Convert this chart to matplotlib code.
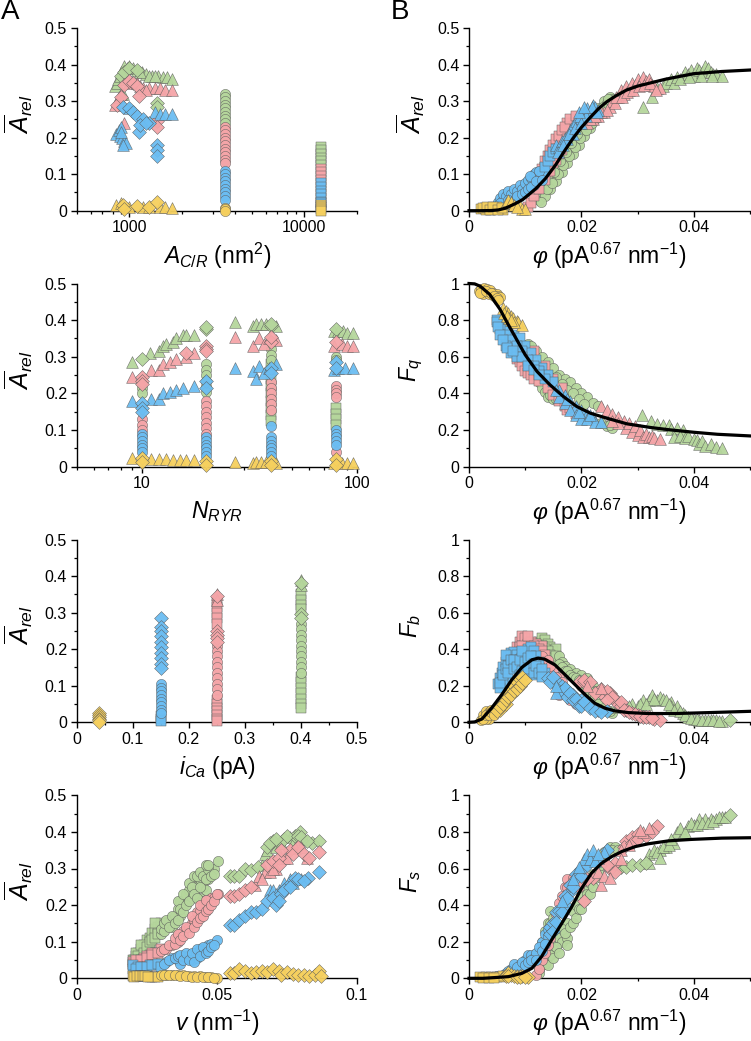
import matplotlib
matplotlib.use("Agg")
import matplotlib.pyplot as plt

plt.rcParams['font.family'] = ['Liberation Sans', 'DejaVu Sans']
plt.rcParams['mathtext.fontset'] = 'custom'
plt.rcParams['mathtext.rm'] = 'Liberation Sans'
plt.rcParams['mathtext.it'] = 'Liberation Sans:italic'
plt.rcParams['mathtext.bf'] = 'Liberation Sans:bold'

GREEN = '#B5D69C'
RED = '#F5A5A8'
BLUE = '#6BBDF2'
YELLOW = '#F6D05E'

# panel A, first row: A_C/R
a1_green_tri = [(830,.34),(850,.35),(860,.36),(880,.37),(900,.38),(930,.395),(1000,.395),(1050,.39),(1100,.385),(1180,.38),(1250,.375),(1350,.37),(1450,.37),(1550,.365),(1650,.365),(1750,.36),(920,.32),(970,.39),(1150,.38),(1300,.37),(1400,.37)]
a1_green_dia = [(900,.37),(930,.38),(1000,.39),(1100,.385),(1430,.295),(1430,.285)]
a1_red_tri = [(830,.29),(870,.31),(900,.32),(1000,.35),(1100,.35),(1200,.335),(1300,.335),(1400,.335),(1500,.335),(1600,.33),(1750,.33),(930,.24),(1150,.34),(1250,.33)]
a1_red_dia = [(850,.29),(900,.31),(930,.345),(1000,.355),(1050,.35),(1100,.34),(1130,.315),(1430,.245),(1430,.23)]
a1_blue_tri = [(840,.21),(870,.22),(890,.23),(880,.205),(910,.2),(930,.19),(950,.185),(1000,.28),(1400,.27),(1500,.265),(1600,.265),(1750,.265),(900,.215),(920,.18)]
a1_blue_dia = [(920,.285),(1000,.28),(1050,.27),(1100,.26),(1130,.215),(1200,.25),(1300,.24),(1430,.18),(1430,.165),(1430,.15),(1150,.235),(1250,.24)]
a1_yellow_tri = [(840,.015),(900,.02),(1000,.01),(1200,.01),(1300,.01),(1500,.01),(1600,.01),(1750,.008)]
a1_yellow_dia = [(920,.015),(930,.005),(1100,.012),(1300,.01),(1440,.025)]
a1_circle_x = 3500
a1_green_circle = [.32,.31,.30,.29,.28,.27,.26,.25,.24]
a1_red_circle = [.23,.22,.21,.20,.19,.18,.17,.16,.15,.14,.13]
a1_blue_circle = [.11,.10,.09,.08,.07,.06,.05,.04,.03]
a1_yellow_circle = [.008,.004,.0]
a1_square_x = 12500
a1_green_square = [.175,.165,.155,.145,.135,.125]
a1_red_square = [.115,.105,.095,.085]
a1_blue_square = [.075,.065,.055,.045,.035,.025,.02]
a1_yellow_square = [.015,.01,.005,.0]

# panel A, second row: N_RYR
a2_green_tri = [(9,.285),(10.9,.31),(12,.315),(12.5,.33),(13,.335),(14,.34),(14.5,.35),(15.5,.36),(16,.36),(17.5,.36),(27,.395),(33,.385),(34,.39),(36,.39),(38,.39),(42,.385),(78,.37),(82,.37),(86,.37),(90,.365),(96,.365)]
a2_green_dia = [(10,.295),(20,.375),(20,.38),(40,.385),(40,.39),(80,.375)]
a2_green_circle = [(10,.23),(10,.215),(10,.2),(20,.28),(20,.265),(20,.25),(20,.235),(20,.22),(20,.205),(40,.32),(40,.305),(40,.29),(80,.3),(80,.29)]
a2_green_square = [(40,.28),(40,.26),(40,.24),(40,.22),(40,.2),(40,.18),(40,.16),(40,.14),(40,.125),(80,.16),(80,.145),(80,.13),(80,.115)]
a2_red_tri = [(9,.245),(11,.265),(12,.265),(12.5,.28),(13.5,.285),(14.5,.295),(16,.3),(17.5,.31),(27,.355),(33,.33),(35,.35),(37,.335),(39,.35),(42,.345),(78,.33),(85,.335),(90,.33),(96,.33)]
a2_red_dia = [(10,.245),(10,.235),(10,.225),(16,.31),(20,.33),(20,.32),(20,.315),(40,.34),(40,.355),(80,.34)]
a2_red_circle = [(10,.13),(10,.115),(10,.1),(20,.18),(20,.165),(20,.15),(20,.135),(20,.12),(20,.105),(20,.09),(40,.23),(40,.215),(40,.2),(40,.185),(40,.17),(40,.155),(80,.22),(80,.21),(80,.2),(80,.19),(80,.04)]
a2_blue_tri = [(9,.18),(11,.185),(12,.185),(12.5,.2),(13.5,.205),(14.5,.21),(15.5,.215),(17.5,.22),(27,.27),(33,.26),(34,.24),(35,.275),(37,.255),(39,.27),(42,.28),(78,.265),(82,.27),(88,.27),(96,.27)]
a2_blue_dia = [(10,.175),(10,.16),(10,.15),(20,.235),(20,.215),(40,.27),(40,.255),(80,.285),(80,.27)]
a2_blue_circle = [(10,.09),(10,.08),(10,.07),(10,.06),(10,.05),(10,.04),(20,.08),(20,.07),(20,.06),(20,.05),(20,.04),(20,.03),(40,.11),(40,.08),(40,.07),(40,.06),(40,.05),(40,.04),(40,.03),(80,.1),(80,.09),(80,.08),(80,.07),(80,.06)]
a2_yellow_tri = [(9,.025),(11,.02),(12,.02),(13,.02),(14,.018),(15,.018),(16,.018),(17.5,.018),(27,.014),(33,.01),(34,.012),(36,.012),(38,.012),(42,.01),(78,.01),(85,.01),(90,.01),(96,.01)]
a2_yellow_dia = [(10,.025),(10,.012),(20,.015),(20,.005),(40,.015),(40,.005),(80,.02),(80,.005)]

# panel A, third row: i_Ca
a3_yellow_dia = [(.04,.025),(.04,.02),(.04,.015),(.04,.01),(.04,.005),(.04,.002)]
a3_blue_dia = [(.15,.285),(.15,.26),(.15,.25),(.15,.235),(.15,.22),(.15,.205),(.15,.19),(.15,.175),(.15,.16),(.15,.148)]
a3_blue_circle = [(.15,.105),(.15,.095),(.15,.085),(.15,.075),(.15,.065),(.15,.055),(.15,.045),(.15,.035),(.15,.025)]
a3_blue_square = [(.15,.018),(.15,.01),(.15,.004)]
a3_red_tri = [(.25,.35),(.25,.335)]
a3_red_square = [(.25,.33),(.25,.315),(.25,.3),(.25,.285),(.25,.27),(.25,.06),(.25,.05),(.25,.04),(.25,.03),(.25,.02),(.25,.01),(.25,.003)]
a3_red_dia = [(.25,.345),(.25,.25),(.25,.24),(.25,.23),(.25,.22)]
a3_red_circle = [(.25,.21),(.25,.195),(.25,.18),(.25,.165),(.25,.15),(.25,.135),(.25,.12),(.25,.105),(.25,.09),(.25,.075)]
a3_green_tri = [(.4,.39),(.4,.375)]
a3_green_dia = [(.4,.38),(.4,.295),(.4,.285)]
a3_green_square = [(.4,.35),(.4,.335),(.4,.32),(.4,.31),(.4,.125),(.4,.11),(.4,.095),(.4,.08),(.4,.065),(.4,.05),(.4,.04)]
a3_green_circle = [(.4,.27),(.4,.255),(.4,.24),(.4,.225),(.4,.21),(.4,.195),(.4,.18),(.4,.165),(.4,.15),(.4,.135)]

# panel A, fourth row: v
a4_green_square = [(.02,.05),(.021,.06),(.022,.07),(.023,.08),(.024,.09),(.025,.105),(.026,.11),(.027,.125),(.028,.135),(.029,.14),(.03,.15),(.028,.15),(.026,.09),(.0205,.05),(.021,.07),(.022,.06),(.023,.09),(.024,.07),(.025,.085),(.026,.1),(.027,.105),(.028,.11),(.029,.12)]
a4_green_circle = [(.03,.12),(.032,.14),(.033,.16),(.034,.14),(.035,.17),(.036,.19),(.037,.21),(.037,.17),(.038,.2),(.039,.23),(.04,.24),(.041,.22),(.042,.26),(.043,.25),(.044,.27),(.044,.22),(.045,.25),(.045,.21),(.046,.29),(.046,.24),(.047,.27),(.048,.3),(.049,.3),(.0505,.32),(.03,.135),(.031,.13),(.031,.15),(.032,.16),(.033,.14),(.034,.17),(.035,.15),(.036,.16),(.036,.21),(.037,.19),(.038,.18),(.038,.23),(.039,.2),(.04,.21),(.04,.26),(.041,.25),(.042,.23),(.042,.28),(.043,.22),(.043,.28),(.044,.25),(.044,.29),(.045,.28),(.046,.27),(.047,.3),(.048,.28),(.046,.31),(.047,.31),(.049,.285)]
a4_green_tri = [(.066,.31),(.067,.34),(.068,.35),(.072,.37),(.076,.385),(.081,.38),(.071,.36),(.073,.37),(.077,.37)]
a4_green_dia = [(.0545,.28),(.056,.28),(.058,.28),(.06,.3),(.062,.295),(.0645,.305),(.07,.375),(.074,.38),(.078,.39),(.0795,.4),(.084,.37),(.0865,.375),(.068,.36),(.069,.37),(.071,.38),(.075,.39),(.079,.39),(.08,.385),(.082,.375)]
a4_red_square = [(.02,.045),(.022,.05),(.024,.055),(.026,.065),(.028,.07),(.03,.08),(.025,.06),(.027,.07),(.02,.04),(.021,.05),(.023,.05),(.025,.055),(.027,.065),(.029,.07)]
a4_red_circle = [(.03,.075),(.032,.08),(.034,.09),(.036,.1),(.037,.12),(.038,.13),(.04,.14),(.041,.15),(.042,.16),(.043,.18),(.044,.185),(.045,.2),(.046,.2),(.047,.21),(.048,.22),(.049,.22),(.0505,.23),(.031,.08),(.033,.09),(.035,.095),(.035,.11),(.036,.12),(.037,.105),(.038,.115),(.039,.14),(.04,.125),(.041,.17),(.042,.14),(.043,.155),(.044,.165),(.044,.2),(.045,.17),(.046,.185),(.046,.215),(.047,.19),(.048,.2),(.049,.21),(.05,.23)]
a4_red_tri = [(.0635,.255),(.065,.28),(.067,.29),(.071,.3),(.074,.33),(.078,.355),(.08,.36),(.082,.33),(.066,.27),(.069,.29),(.07,.3),(.075,.33)]
a4_red_dia = [(.0545,.225),(.056,.225),(.058,.23),(.06,.24),(.062,.25),(.068,.31),(.07,.32),(.072,.33),(.076,.35),(.0865,.345),(.072,.31),(.073,.35),(.077,.34),(.079,.36),(.081,.34),(.083,.33)]
a4_blue_square = [(.02,.025),(.02,.035),(.022,.03),(.024,.032),(.026,.035),(.028,.035),(.03,.04),(.021,.025),(.023,.03),(.025,.032),(.027,.035),(.029,.04),(.03,.03)]
a4_blue_circle = [(.032,.045),(.034,.055),(.036,.05),(.037,.04),(.038,.06),(.04,.065),(.041,.05),(.042,.07),(.043,.055),(.044,.08),(.045,.07),(.046,.085),(.047,.09),(.048,.095),(.05,.105),(.031,.04),(.033,.05),(.035,.055),(.036,.06),(.037,.065),(.038,.05),(.039,.07),(.04,.05),(.041,.07),(.042,.045),(.043,.08),(.044,.06),(.045,.085),(.046,.07),(.047,.075),(.048,.085),(.049,.09)]
a4_blue_tri = [(.069,.24),(.072,.24),(.074,.26),(.076,.27),(.08,.27),(.07,.24),(.071,.23),(.077,.26)]
a4_blue_dia = [(.0545,.145),(.056,.145),(.058,.16),(.06,.17),(.062,.18),(.064,.18),(.066,.19),(.068,.21),(.07,.22),(.071,.2),(.073,.23),(.075,.25),(.078,.275),(.0825,.275),(.0865,.29),(.072,.21),(.074,.24),(.076,.25),(.079,.27),(.081,.265)]
a4_yellow_square = [(.02,.006),(.021,.006),(.022,.005),(.023,.005),(.024,.005),(.025,.005),(.026,.004),(.027,.004),(.028,.004),(.029,.004),(.0205,.004),(.0215,.006),(.0225,.006),(.0235,.005),(.0245,.005),(.0255,.004)]
a4_yellow_circle = [(.03,.01),(.032,.01),(.034,.009),(.036,.008),(.038,.008),(.04,.007),(.042,.006),(.044,.005),(.046,.004),(.048,.003),(.05,.002),(.031,.008),(.033,.01),(.035,.008),(.037,.006),(.039,.005),(.041,.004),(.043,.004),(.045,.003),(.047,.003),(.049,.002)]
a4_yellow_dia = [(.0545,.015),(.056,.015),(.058,.025),(.06,.02),(.062,.015),(.064,.018),(.066,.02),(.068,.018),(.07,.025),(.072,.02),(.073,.01),(.075,.018),(.077,.012),(.079,.01),(.081,.01),(.083,.005),(.085,.008),(.0865,.02),(.087,.007)]

# panel B, first row: A_rel against phi
b1_green_circle = [(.0125,.03),(.013,.05),(.0135,.04),(.014,.07),(.0145,.06),(.015,.09),(.0155,.08),(.016,.12),(.0165,.105),(.017,.145),(.0175,.13),(.018,.17),(.0185,.155),(.019,.195),(.0195,.18),(.02,.21),(.0205,.205),(.021,.235),(.0215,.225),(.022,.26),(.0225,.25),(.023,.28),(.0235,.27),(.024,.3),(.0245,.295),(.025,.31),(.0255,.305),(.0128,.025),(.0138,.06),(.0148,.075),(.0158,.1),(.0168,.125),(.0178,.15),(.0188,.175),(.0198,.2),(.0208,.22),(.0218,.24),(.0228,.265),(.0238,.285),(.0248,.305),(.0152,.105),(.0162,.135),(.0172,.16),(.0182,.185),(.0192,.21)]
b1_green_tri = [(.031,.285),(.0325,.31),(.0335,.335),(.0345,.34),(.035,.35),(.036,.36),(.0365,.35),(.037,.365),(.038,.37),(.0385,.38),(.039,.375),(.0395,.385),(.04,.37),(.0405,.39),(.041,.385),(.0415,.38),(.042,.395),(.0425,.39),(.043,.38),(.0435,.375),(.044,.375),(.045,.37),(.0375,.36),(.0392,.365),(.0412,.37),(.0432,.37)]
b1_red_square = [(.0105,.01),(.011,.02),(.0115,.04),(.012,.06),(.0125,.08),(.013,.1),(.0135,.12),(.014,.135),(.0145,.15),(.015,.165),(.0155,.18),(.016,.195),(.0165,.205),(.017,.22),(.0175,.24),(.018,.23),(.014,.105),(.015,.13),(.016,.155),(.0125,.1),(.013,.115),(.0135,.135),(.014,.15),(.0145,.165),(.015,.18),(.0155,.195),(.016,.205),(.0165,.22),(.017,.23),(.018,.25),(.019,.26),(.0125,.06),(.0135,.085),(.0145,.11),(.0155,.14),(.0165,.165),(.0175,.195)]
b1_red_tri = [(.021,.24),(.022,.25),(.023,.26),(.024,.27),(.025,.285),(.0255,.3),(.026,.295),(.0265,.31),(.027,.33),(.0275,.32),(.028,.34),(.0285,.33),(.029,.35),(.0295,.345),(.03,.36),(.0305,.35),(.031,.365),(.0315,.355),(.032,.36),(.0325,.345),(.033,.34),(.034,.335),(.0215,.25),(.0225,.26),(.0235,.27),(.0245,.275),(.0262,.31),(.0272,.31),(.0282,.325),(.0292,.33),(.0302,.34),(.0312,.345),(.0322,.35),(.0332,.33)]
b1_blue_circle = [(.005,.01),(.0052,.025),(.0055,.035),(.006,.03),(.006,.045),(.0065,.04),(.0065,.015),(.007,.055),(.0075,.045),(.008,.06),(.008,.03),(.0085,.055),(.009,.07),(.009,.04),(.0095,.06),(.01,.075),(.0105,.085),(.011,.09),(.0115,.1),(.0115,.07),(.012,.105),(.0125,.09),(.013,.105),(.0135,.11),(.0055,.02),(.007,.03),(.0075,.02),(.0085,.04),(.0095,.045),(.01,.05),(.0105,.06),(.011,.065),(.0108,.095),(.012,.08),(.0125,.11),(.013,.085)]
b1_blue_square = [(.0135,.12),(.014,.135),(.0145,.15),(.015,.16),(.0155,.17)]
b1_blue_tri = [(.0155,.18),(.016,.175),(.0165,.19),(.017,.2),(.0175,.195),(.018,.22),(.0185,.235),(.0185,.21),(.019,.245),(.0195,.24),(.02,.255),(.0205,.27),(.021,.28),(.0215,.27),(.022,.29),(.0225,.285),(.023,.275),(.0158,.16),(.0168,.18),(.0178,.21),(.0188,.225),(.0198,.26),(.0208,.26),(.0218,.285),(.0228,.27),(.02,.24),(.0195,.27),(.0205,.285)]
b1_yellow_square = [(.0022,.005),(.0028,.008),(.0034,.005),(.004,.008),(.0046,.006),(.005,.01),(.0055,.004),(.006,.002),(.003,.002),(.004,.001),(.0025,.008),(.0032,.01),(.0038,.003),(.0043,.01),(.0052,.002),(.0058,.008)]
b1_yellow_tri = [(.0065,.02),(.007,.03),(.0075,.025),(.008,.015),(.009,.012),(.0095,.006),(.01,.004),(.0085,.01)]

# panel B, second row: F_q against phi
b2_green_circle = [(.0105,.67),(.011,.66),(.012,.63),(.013,.6),(.014,.57),(.015,.54),(.016,.5),(.017,.48),(.018,.46),(.019,.43),(.02,.4),(.021,.38),(.022,.35),(.023,.33),(.0155,.49),(.0165,.45),(.0175,.42),(.0185,.4),(.0195,.37),(.0205,.34),(.0125,.46),(.013,.43),(.0135,.41),(.014,.38),(.0145,.39),(.015,.37),(.0155,.37),(.0235,.24),(.0245,.22),(.0255,.21),(.025,.23)]
b2_green_tri = [(.0308,.283),(.0323,.252),(.0335,.235),(.0345,.23),(.0355,.225),(.036,.205),(.037,.21),(.038,.2),(.0365,.16),(.0375,.17),(.0385,.155),(.039,.165),(.04,.15),(.0405,.145),(.041,.125),(.0415,.14),(.042,.115),(.043,.125),(.044,.105),(.045,.1)]
b2_red_square = [(.0085,.59),(.009,.57),(.0095,.55),(.01,.52),(.0105,.51),(.011,.5),(.0115,.48),(.0125,.47),(.014,.43),(.015,.39),(.016,.36),(.017,.33),(.0175,.31),(.018,.32),(.019,.29),(.0115,.63),(.0135,.55),(.015,.48),(.0165,.43)]
b2_red_tri = [(.0235,.33),(.0245,.31),(.0255,.29),(.0265,.27),(.0275,.25),(.028,.21),(.0285,.24),(.029,.19),(.0295,.22),(.03,.175),(.0305,.2),(.031,.16),(.0315,.18),(.032,.16),(.0325,.17),(.033,.155),(.034,.15),(.0265,.24),(.0255,.25)]
b2_blue_square = [(.005,.8),(.006,.77),(.007,.75),(.008,.72),(.009,.7),(.01,.66),(.011,.62),(.012,.58),(.013,.54),(.014,.5),(.015,.46),(.0055,.75),(.0065,.72),(.0075,.69),(.0085,.66),(.0095,.63),(.0105,.58),(.0115,.55),(.0125,.52),(.0135,.48),(.0065,.66),(.0075,.62),(.0085,.6),(.0095,.6),(.0105,.55),(.0115,.53),(.0125,.5),(.0049,.79),(.0052,.76),(.0055,.72),(.006,.69),(.0068,.65),(.0078,.63)]
b2_blue_tri = [(.016,.42),(.017,.39),(.018,.36),(.019,.33),(.02,.31),(.021,.29),(.022,.27),(.016,.38),(.017,.35),(.018,.31),(.019,.28),(.02,.26),(.021,.26),(.0225,.245),(.0235,.245),(.0155,.42),(.0175,.37),(.0195,.3),(.0215,.28)]
b2_yellow_circle = [(.0017,.96),(.0022,.97),(.0026,.976),(.0032,.97),(.0037,.967),(.0043,.95),(.0049,.94),(.0052,.93),(.0055,.925),(.0025,.94),(.0035,.945),(.002,.95),(.003,.96),(.004,.95),(.0045,.93),(.005,.92),(.0052,.91)]
b2_yellow_tri = [(.0061,.867),(.0065,.85),(.007,.84),(.0075,.825),(.0079,.81),(.0085,.795),(.0088,.79),(.0094,.775),(.0072,.81),(.008,.79),(.0063,.84),(.0068,.82),(.0075,.8)]

# panel B, third row: F_b against phi
b3_green_square = [(.0125,.44),(.013,.46),(.0135,.45),(.014,.43),(.0145,.41),(.015,.39),(.0155,.4),(.012,.43),(.0125,.41),(.013,.42),(.0135,.4),(.014,.39),(.0145,.37),(.015,.35),(.0155,.36)]
b3_green_circle = [(.016,.36),(.0165,.33),(.017,.31),(.018,.29),(.019,.27),(.02,.26),(.021,.24),(.022,.2),(.0225,.17),(.0215,.14),(.0225,.08),(.0255,.05),(.025,.06),(.016,.32),(.0165,.3),(.017,.28),(.0175,.28),(.018,.26),(.0185,.25),(.019,.24),(.0195,.23),(.02,.2),(.0205,.19),(.021,.2),(.0215,.17),(.022,.15),(.0225,.14),(.023,.1),(.024,.08),(.0245,.07)]
b3_green_tri = [(.0265,.085),(.029,.1),(.03,.09),(.031,.12),(.032,.12),(.0325,.15),(.0335,.12),(.034,.14),(.0345,.13),(.035,.12),(.036,.11),(.037,.09),(.038,.05),(.039,.03),(.04,.02),(.041,.015),(.042,.01),(.043,.015),(.044,.01),(.045,.008),(.0275,.09),(.0285,.09),(.0305,.1),(.0315,.1),(.033,.13),(.036,.09),(.0355,.1),(.0365,.07),(.0375,.06),(.0385,.04),(.0395,.025),(.0405,.018),(.0415,.012),(.0425,.012),(.0435,.012),(.0445,.009)]
b3_green_dia = [(.0465,.01)]
b3_red_square = [(.0085,.41),(.009,.44),(.0095,.47),(.01,.46),(.0105,.43),(.011,.44),(.012,.43),(.013,.42),(.009,.41),(.0095,.42),(.0105,.47),(.0115,.42),(.0125,.4),(.013,.39),(.0135,.37)]
b3_red_circle = [(.012,.3),(.013,.36),(.014,.34),(.015,.28),(.016,.25),(.017,.18),(.018,.14),(.0185,.12),(.0145,.31),(.0155,.25),(.0165,.22),(.0175,.17),(.016,.15),(.018,.12),(.019,.1)]
b3_red_dia = [(.0195,.22),(.0205,.22),(.0235,.18),(.0235,.16),(.025,.16),(.026,.13),(.0265,.1),(.027,.09),(.028,.065),(.029,.05),(.03,.04),(.031,.03),(.032,.03),(.033,.02),(.034,.015),(.0205,.23),(.0215,.22),(.0225,.16),(.0245,.17),(.0255,.14),(.0245,.12),(.027,.11),(.0275,.07),(.0285,.055),(.0295,.045),(.0305,.035),(.0315,.03),(.0325,.025)]
b3_red_tri = [(.021,.2),(.0235,.19)]
b3_blue_square = [(.0052,.21),(.0055,.24),(.0058,.27),(.006,.3),(.0065,.33),(.007,.36),(.0075,.38),(.008,.385),(.0085,.37),(.0085,.33),(.0075,.3),(.0065,.25),(.006,.22),(.0055,.19),(.009,.3),(.0095,.35),(.01,.38),(.0105,.4),(.011,.41),(.0115,.39),(.012,.36),(.0125,.33),(.011,.27),(.012,.26),(.0135,.27),(.0055,.215),(.006,.26),(.0065,.29),(.0065,.37),(.007,.31),(.007,.27),(.0075,.34),(.008,.34),(.008,.29),(.0085,.3),(.009,.34),(.009,.26),(.0095,.28),(.0095,.39),(.01,.33),(.01,.27),(.0105,.35),(.0105,.29),(.011,.36),(.0115,.32),(.0115,.27),(.012,.31),(.0125,.27),(.013,.29),(.013,.25)]
b3_blue_dia = [(.014,.24),(.015,.22),(.016,.21),(.0165,.2),(.0175,.175),(.0185,.15),(.02,.12),(.021,.1),(.022,.085),(.023,.07),(.0245,.06),(.0145,.22),(.015,.25),(.016,.17),(.0165,.17),(.017,.19),(.0175,.14),(.018,.16),(.0185,.12),(.019,.13),(.0195,.09),(.02,.09),(.0205,.11),(.0215,.08),(.0225,.06),(.0235,.055)]
b3_blue_tri = [(.0155,.16),(.0155,.2)]
b3_yellow_circle = [(.0022,.01),(.0025,.04),(.003,.06),(.0035,.055),(.004,.04),(.0035,.02),(.003,.02),(.004,.07),(.0045,.06),(.0025,.02),(.003,.04),(.0035,.04),(.004,.055),(.0045,.04)]
b3_yellow_dia = [(.005,.08),(.0055,.1),(.0055,.07),(.006,.13),(.0065,.15),(.0065,.1),(.007,.16),(.0075,.19),(.008,.2),(.0085,.22),(.009,.235),(.0095,.25),(.005,.06),(.0055,.085),(.006,.1),(.0065,.12),(.007,.14),(.0075,.15),(.008,.17),(.0085,.18),(.009,.2),(.0095,.215),(.01,.23)]

# panel B, fourth row: F_s against phi
b4_green_circle = [(.0125,.05),(.013,.1),(.014,.12),(.0145,.2),(.0144,.37),(.015,.16),(.0155,.25),(.016,.22),(.0165,.2),(.0175,.22),(.0175,.3),(.0185,.37),(.019,.4),(.02,.45),(.0205,.5),(.0215,.52),(.022,.57),(.023,.65),(.024,.69),(.025,.72),(.026,.72),(.0125,.03),(.0135,.08),(.014,.07),(.0145,.13),(.015,.11),(.0155,.17),(.016,.14),(.0165,.27),(.017,.25),(.0175,.18),(.018,.28),(.0185,.3),(.019,.33),(.0195,.38),(.02,.38),(.0205,.42),(.021,.46),(.0215,.46),(.022,.5),(.0225,.55),(.023,.58),(.0235,.62),(.024,.65),(.0245,.68),(.0255,.7),(.0265,.7),(.014,.3),(.0145,.3),(.015,.33),(.0135,.26),(.013,.2)]
b4_green_tri = [(.032,.68),(.033,.7),(.034,.7),(.035,.72),(.0365,.74),(.037,.8),(.038,.79),(.039,.83),(.04,.84),(.041,.87),(.042,.87),(.043,.87),(.044,.87),(.045,.88),(.0335,.69),(.0345,.72),(.0355,.73),(.036,.76),(.0375,.82),(.0385,.8),(.0395,.85),(.0405,.84),(.0415,.85),(.0425,.85),(.0435,.86),(.0445,.88),(.0455,.88),(.032,.63),(.034,.66)]
b4_green_dia = [(.026,.6),(.027,.61),(.028,.61),(.029,.62),(.0305,.62),(.0315,.63),(.0465,.89)]
b4_red_circle = [(.012,.02),(.013,.1),(.0145,.22),(.015,.3),(.016,.41),(.017,.5),(.0175,.54),(.018,.51),(.019,.53),(.0125,.05),(.0135,.14),(.014,.18),(.0155,.35),(.0165,.45),(.0175,.5),(.0185,.55),(.0195,.5)]
b4_red_dia = [(.0205,.42),(.02,.52),(.022,.55),(.025,.6),(.026,.63),(.028,.75),(.029,.77),(.03,.79),(.0335,.83),(.021,.54),(.0245,.62),(.026,.58),(.0275,.72),(.029,.74),(.03,.76),(.0315,.78),(.0325,.8)]
b4_red_tri = [(.0235,.51),(.027,.7),(.0285,.73),(.031,.8),(.032,.82),(.023,.58),(.024,.56),(.025,.55),(.027,.65),(.0305,.81)]
b4_blue_circle = [(.005,.01),(.006,.02),(.0075,.05),(.008,.08),(.009,.07),(.01,.1),(.0105,.13),(.011,.13),(.0115,.11),(.012,.14),(.013,.2),(.0135,.24),(.014,.23),(.0055,.015),(.0065,.03),(.007,.04),(.0085,.06),(.0095,.09),(.01,.07),(.0105,.09),(.011,.1),(.012,.1),(.0125,.17),(.013,.15),(.0135,.19),(.014,.27)]
b4_blue_dia = [(.0145,.28),(.015,.3),(.0155,.36),(.017,.4),(.018,.47),(.019,.57),(.02,.6),(.022,.66),(.0245,.7),(.0145,.24),(.015,.26),(.0155,.31),(.016,.37),(.0165,.36),(.017,.45),(.0175,.44),(.018,.51),(.0185,.5),(.019,.55),(.02,.56),(.0205,.61),(.021,.62)]
b4_blue_tri = [(.0165,.42),(.0185,.54),(.0205,.65),(.021,.68),(.023,.66),(.024,.69),(.0195,.61),(.0215,.65),(.022,.7),(.0225,.64),(.023,.68)]
b4_yellow_square = [(.002,.005),(.003,.008),(.004,.006),(.005,.008),(.0055,.005),(.006,.01),(.0025,.003),(.0035,.004),(.0045,.003)]
b4_yellow_dia = [(.0065,.02),(.007,.03),(.0075,.02),(.008,.01),(.0085,.012),(.009,.012),(.0095,.01),(.0105,.006),(.0065,.01),(.007,.015),(.0085,.005),(.009,.006),(.01,.007)]

# fitted curves
curve1_x = [0,.002,.004,.0052,.0065,.0082,.0095,.0107,.012,.0136,.0154,.0171,.0185,.02,.0215,.0231,.0245,.0261,.028,.03,.035,.04,.045,.05]
curve1_y = [0,0,.0005,.002,.007,.019,.03,.045,.062,.088,.125,.166,.198,.228,.254,.28,.298,.314,.33,.341,.36,.375,.381,.385]
curve2_x = [0,.001,.002,.0037,.0055,.007,.0085,.01,.0121,.0144,.0168,.0192,.0216,.0245,.0281,.0323,.0358,.04,.0442,.05]
curve2_y = [1,.998,.985,.94,.86,.775,.693,.611,.52,.447,.383,.328,.292,.265,.234,.214,.201,.188,.177,.168]
curve3_x = [0,.001,.0023,.004,.0058,.0076,.0094,.0112,.0123,.0135,.0153,.0171,.0189,.0207,.0224,.0242,.026,.0284,.0319,.0367,.0426,.05]
curve3_y = [0,.002,.018,.077,.15,.232,.3,.342,.351,.345,.314,.26,.205,.15,.104,.077,.062,.053,.048,.048,.053,.06]
curve4_x = [0,.0025,.0046,.007,.0094,.0112,.0129,.0147,.0165,.0183,.02,.0218,.0236,.0254,.0272,.0296,.0319,.0355,.0396,.045,.05]
curve4_y = [0,0,.004,.009,.027,.055,.118,.21,.3,.392,.49,.575,.629,.665,.693,.72,.735,.751,.759,.766,.768]

xlabels_left = [r'$A_{C/R}$ (nm$^{2}$)', r'$N_{RYR}$', r'$i_{Ca}$ (pA)', r'$v$ (nm$^{-1}$)']
xlabel_right = r'$\varphi$ (pA$^{0.67}$ nm$^{-1}$)'
ylabel_arel = r'$\overline{A}_{rel}$'
ylabels_right = [ylabel_arel, r'$F_{q}$', r'$F_{b}$', r'$F_{s}$']
yticks_half = [0, .1, .2, .3, .4, .5]
ylabs_half = ['0', '0.1', '0.2', '0.3', '0.4', '0.5']
yticks_one = [0, .2, .4, .6, .8, 1]
ylabs_one = ['0', '0.2', '0.4', '0.6', '0.8', '1']

W, H = 751, 1041
TOPS = [28, 283.5, 539.5, 795.3]
BOTTOMS = [210.7, 466.7, 722.3, 978.3]
LEFTS = [76.8, 469]
RIGHTS = [357, 750]

fig = plt.figure(figsize=(W / 100, H / 100), dpi=100)


def make_axes(col, row):
    x0, x1 = LEFTS[col], RIGHTS[col]
    y0, y1 = TOPS[row], BOTTOMS[row]
    ax = fig.add_axes([x0 / W, 1 - y1 / H, (x1 - x0) / W, (y1 - y0) / H])
    ax.spines['top'].set_visible(False)
    ax.spines['right'].set_visible(False)
    ax.spines['left'].set_linewidth(1.0)
    ax.spines['bottom'].set_linewidth(1.0)
    ax.tick_params(which='major', length=4, width=1.0, labelsize=11.5, pad=3)
    ax.tick_params(which='minor', length=2.2, width=0.9)
    return ax


def scat(ax, pts, color, marker):
    sizes = {'^': 72, 'D': 50, 'o': 54, 's': 42}
    xs = [p[0] for p in pts]
    ys = [p[1] for p in pts]
    ax.scatter(xs, ys, s=sizes[marker], c=color, marker=marker, alpha=0.95,
               edgecolors=(0.35, 0.35, 0.35, 0.16), linewidths=0.35, clip_on=False, zorder=3)


def y_axis(ax, ticks, labels, minors, label):
    ax.set_ylim(ticks[0], ticks[-1])
    ax.set_yticks(ticks)
    ax.set_yticklabels(labels)
    ax.set_yticks(minors, minor=True)
    ax.set_ylabel(label, fontsize=18 if label == ylabel_arel else 16.5, va='center')
    ax.yaxis.set_label_coords(-0.207, 0.53)


def x_label(ax, label):
    ax.set_xlabel(label, fontsize=16.5, va='center')
    ax.xaxis.set_label_coords(0.5, -0.245)


half_minor = [.05, .15, .25, .35, .45]
one_minor = [.1, .3, .5, .7, .9]

# left column
ax = make_axes(0, 0)
for p, c, m in [(a1_green_tri, GREEN, '^'), (a1_green_dia, GREEN, 'D'), (a1_red_tri, RED, '^'), (a1_red_dia, RED, 'D'),
                (a1_blue_tri, BLUE, '^'), (a1_blue_dia, BLUE, 'D'), (a1_yellow_tri, YELLOW, '^'), (a1_yellow_dia, YELLOW, 'D')]:
    scat(ax, p, c, m)
for vals, c in [(a1_green_circle, GREEN), (a1_red_circle, RED), (a1_blue_circle, BLUE), (a1_yellow_circle, YELLOW)]:
    scat(ax, [(a1_circle_x, v) for v in vals], c, 'o')
for vals, c in [(a1_green_square, GREEN), (a1_red_square, RED), (a1_blue_square, BLUE), (a1_yellow_square, YELLOW)]:
    scat(ax, [(a1_square_x, v) for v in vals], c, 's')
ax.set_xscale('log')
ax.set_xlim(500, 20000)
ax.set_xticks([1000, 10000])
ax.set_xticklabels(['1000', '10000'])
ax.set_xticks([500, 600, 700, 800, 900, 2000, 3000, 4000, 5000, 6000, 7000, 8000, 9000, 20000], minor=True)
ax.set_xticklabels([], minor=True)
y_axis(ax, yticks_half, ylabs_half, half_minor, ylabel_arel)
x_label(ax, xlabels_left[0])

ax = make_axes(0, 1)
for p, c, m in [(a2_green_square, GREEN, 's'), (a2_green_circle, GREEN, 'o'), (a2_green_tri, GREEN, '^'), (a2_green_dia, GREEN, 'D'),
                (a2_red_circle, RED, 'o'), (a2_red_tri, RED, '^'), (a2_red_dia, RED, 'D'),
                (a2_blue_circle, BLUE, 'o'), (a2_blue_tri, BLUE, '^'), (a2_blue_dia, BLUE, 'D'),
                (a2_yellow_tri, YELLOW, '^'), (a2_yellow_dia, YELLOW, 'D')]:
    scat(ax, p, c, m)
ax.set_xscale('log')
ax.set_xlim(5, 100)
ax.set_xticks([10, 100])
ax.set_xticklabels(['10', '100'])
ax.set_xticks([5, 6, 7, 8, 9, 20, 30, 40, 50, 60, 70, 80, 90], minor=True)
ax.set_xticklabels([], minor=True)
y_axis(ax, yticks_half, ylabs_half, half_minor, ylabel_arel)
x_label(ax, xlabels_left[1])

ax = make_axes(0, 2)
for p, c, m in [(a3_yellow_dia, YELLOW, 'D'), (a3_blue_square, BLUE, 's'), (a3_blue_circle, BLUE, 'o'), (a3_blue_dia, BLUE, 'D'),
                (a3_red_square, RED, 's'), (a3_red_tri, RED, '^'), (a3_red_circle, RED, 'o'), (a3_red_dia, RED, 'D'),
                (a3_green_square, GREEN, 's'), (a3_green_tri, GREEN, '^'), (a3_green_circle, GREEN, 'o'), (a3_green_dia, GREEN, 'D')]:
    scat(ax, p, c, m)
ax.set_xlim(0, .5)
ax.set_xticks(yticks_half)
ax.set_xticklabels(ylabs_half)
ax.set_xticks(half_minor, minor=True)
y_axis(ax, yticks_half, ylabs_half, half_minor, ylabel_arel)
x_label(ax, xlabels_left[2])

ax = make_axes(0, 3)
for p, c, m in [(a4_green_square, GREEN, 's'), (a4_green_circle, GREEN, 'o'), (a4_green_tri, GREEN, '^'), (a4_green_dia, GREEN, 'D'),
                (a4_red_square, RED, 's'), (a4_red_circle, RED, 'o'), (a4_red_tri, RED, '^'), (a4_red_dia, RED, 'D'),
                (a4_blue_square, BLUE, 's'), (a4_blue_circle, BLUE, 'o'), (a4_blue_tri, BLUE, '^'), (a4_blue_dia, BLUE, 'D'),
                (a4_yellow_square, YELLOW, 's'), (a4_yellow_circle, YELLOW, 'o'), (a4_yellow_dia, YELLOW, 'D')]:
    scat(ax, p, c, m)
ax.set_xlim(0, .1)
ax.set_xticks([0, .05, .1])
ax.set_xticklabels(['0', '0.05', '0.1'])
y_axis(ax, yticks_half, ylabs_half, half_minor, ylabel_arel)
x_label(ax, xlabels_left[3])

# right column
right_series = [
    [(b1_green_circle, GREEN, 'o'), (b1_green_tri, GREEN, '^'), (b1_red_square, RED, 's'), (b1_red_tri, RED, '^'),
     (b1_blue_circle, BLUE, 'o'), (b1_blue_square, BLUE, 's'), (b1_blue_tri, BLUE, '^'), (b1_yellow_square, YELLOW, 's'), (b1_yellow_tri, YELLOW, '^')],
    [(b2_green_circle, GREEN, 'o'), (b2_green_tri, GREEN, '^'), (b2_red_square, RED, 's'), (b2_red_tri, RED, '^'),
     (b2_blue_square, BLUE, 's'), (b2_blue_tri, BLUE, '^'), (b2_yellow_circle, YELLOW, 'o'), (b2_yellow_tri, YELLOW, '^')],
    [(b3_green_square, GREEN, 's'), (b3_green_circle, GREEN, 'o'), (b3_green_tri, GREEN, '^'), (b3_green_dia, GREEN, 'D'),
     (b3_red_square, RED, 's'), (b3_red_circle, RED, 'o'), (b3_red_dia, RED, 'D'), (b3_red_tri, RED, '^'),
     (b3_blue_square, BLUE, 's'), (b3_blue_dia, BLUE, 'D'), (b3_blue_tri, BLUE, '^'), (b3_yellow_circle, YELLOW, 'o'), (b3_yellow_dia, YELLOW, 'D')],
    [(b4_green_circle, GREEN, 'o'), (b4_green_tri, GREEN, '^'), (b4_green_dia, GREEN, 'D'), (b4_red_circle, RED, 'o'), (b4_red_dia, RED, 'D'), (b4_red_tri, RED, '^'),
     (b4_blue_circle, BLUE, 'o'), (b4_blue_dia, BLUE, 'D'), (b4_blue_tri, BLUE, '^'), (b4_yellow_square, YELLOW, 's'), (b4_yellow_dia, YELLOW, 'D')],
]
curves = [(curve1_x, curve1_y), (curve2_x, curve2_y), (curve3_x, curve3_y), (curve4_x, curve4_y)]
for row in range(4):
    ax = make_axes(1, row)
    for p, c, m in right_series[row]:
        scat(ax, p, c, m)
    ax.plot(curves[row][0], curves[row][1], color='black', lw=2.3, zorder=5, clip_on=False, solid_joinstyle='round')
    ax.set_xlim(0, .05)
    ax.set_xticks([0, .02, .04])
    ax.set_xticklabels(['0', '0.02', '0.04'])
    ax.set_xticks([.01, .03, .05], minor=True)
    if row == 0:
        y_axis(ax, yticks_half, ylabs_half, half_minor, ylabels_right[row])
    else:
        y_axis(ax, yticks_one, ylabs_one, one_minor, ylabels_right[row])
    x_label(ax, xlabel_right)

fig.text(1 / W, 1 - 12 / H, 'A', fontsize=20, va='center', ha='left')
fig.text(391 / W, 1 - 12 / H, 'B', fontsize=20, va='center', ha='left')

fig.savefig('out.png', dpi=100)
